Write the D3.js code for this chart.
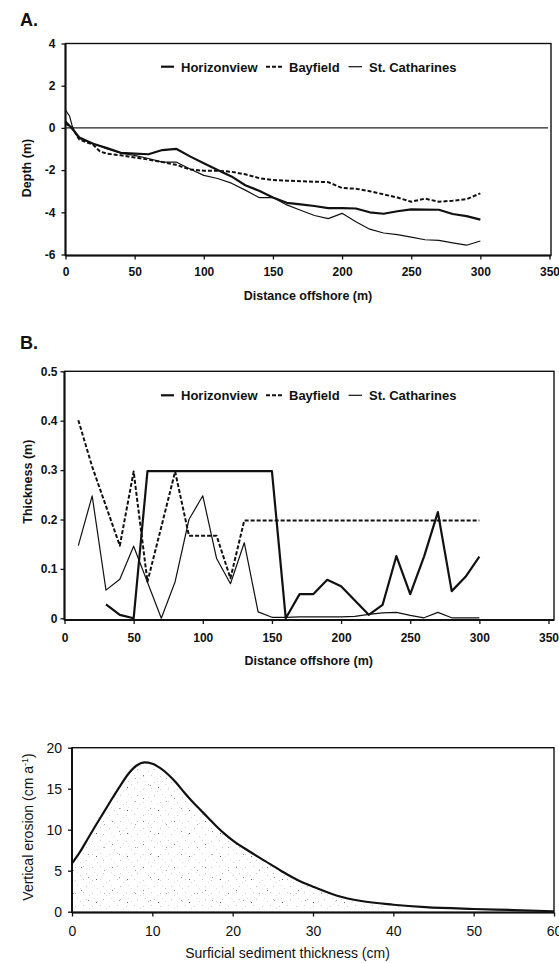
<!DOCTYPE html>
<html>
<head>
<meta charset="utf-8">
<script src="https://cdn.jsdelivr.net/npm/d3@7"></script>
<style>
  html, body { margin: 0; padding: 0; background: #fff; }
  svg { display: block; }
</style>
</head>
<body>
<svg id="fig" width="559" height="963"></svg>
<script>
// ---------- Panel A: depth profiles (m) vs distance offshore (m) ----------
const depthHorizonviewX = [0, 5, 10, 20, 30, 40, 50, 60, 70, 80, 90, 100, 110, 120, 130, 140, 150, 160, 170, 180, 190, 200, 210, 220, 230, 240, 250, 260, 270, 280, 290, 300];
const depthHorizonview  = [0.3, -0.05, -0.45, -0.75, -0.95, -1.18, -1.22, -1.25, -1.05, -0.99, -1.35, -1.68, -2.0, -2.3, -2.72, -2.98, -3.3, -3.55, -3.62, -3.7, -3.8, -3.8, -3.82, -4.0, -4.07, -3.95, -3.86, -3.87, -3.88, -4.08, -4.18, -4.35];

const depthBayfieldX = [0, 5, 10, 20, 25, 30, 40, 50, 60, 70, 80, 90, 100, 110, 120, 130, 140, 150, 160, 170, 180, 190, 200, 210, 220, 230, 240, 250, 260, 270, 280, 290, 300];
const depthBayfield  = [0.2, 0, -0.55, -0.8, -1.12, -1.22, -1.3, -1.4, -1.5, -1.62, -1.75, -1.97, -2.03, -2.03, -2.08, -2.2, -2.38, -2.47, -2.5, -2.53, -2.55, -2.57, -2.85, -2.88, -3.0, -3.15, -3.3, -3.5, -3.35, -3.5, -3.45, -3.38, -3.1];

const depthStCatharinesX = [0, 3, 5, 8, 10, 20, 30, 40, 50, 60, 70, 80, 90, 100, 110, 120, 130, 140, 150, 160, 170, 180, 190, 200, 210, 220, 230, 240, 250, 260, 270, 280, 290, 300];
const depthStCatharines  = [0.85, 0.55, 0.05, -0.35, -0.5, -0.75, -1.0, -1.2, -1.3, -1.45, -1.62, -1.62, -1.95, -2.25, -2.4, -2.62, -2.95, -3.3, -3.3, -3.65, -3.9, -4.15, -4.3, -4.05, -4.45, -4.8, -4.98, -5.06, -5.18, -5.3, -5.33, -5.45, -5.56, -5.36];

const depthXTicks = [0, 50, 100, 150, 200, 250, 300, 350];
const depthYTicks = [-6, -4, -2, 0, 2, 4];

// ---------- Panel B: thickness (m) vs distance offshore (m) ----------
const thickHorizonviewX = [30, 40, 50, 60, 70, 80, 90, 100, 110, 120, 130, 140, 150, 160, 170, 180, 190, 200, 210, 220, 230, 240, 250, 260, 270, 280, 290, 300];
const thickHorizonview  = [0.028, 0.007, 0, 0.298, 0.298, 0.298, 0.298, 0.298, 0.298, 0.298, 0.298, 0.298, 0.298, 0, 0.049, 0.049, 0.078, 0.065, 0.036, 0.007, 0.027, 0.126, 0.049, 0.125, 0.215, 0.055, 0.084, 0.125];

const thickBayfieldX = [10, 20, 30, 40, 50, 60, 70, 80, 90, 100, 110, 120, 130, 140, 150, 160, 170, 180, 190, 200, 210, 220, 230, 240, 250, 260, 270, 280, 290, 300];
const thickBayfield  = [0.401, 0.307, 0.227, 0.147, 0.297, 0.074, 0.185, 0.297, 0.167, 0.167, 0.167, 0.081, 0.198, 0.198, 0.198, 0.198, 0.198, 0.198, 0.198, 0.198, 0.198, 0.198, 0.198, 0.198, 0.198, 0.198, 0.198, 0.198, 0.198, 0.198];

const thickStCatharinesX = [10, 20, 30, 40, 50, 60, 70, 80, 90, 100, 110, 120, 130, 140, 150, 160, 170, 180, 190, 200, 210, 220, 230, 240, 250, 260, 270, 280, 290, 300];
const thickStCatharines  = [0.147, 0.248, 0.057, 0.079, 0.146, 0.073, 0, 0.074, 0.2, 0.248, 0.121, 0.07, 0.153, 0.013, 0.002, 0.002, 0.003, 0.003, 0.003, 0.003, 0.004, 0.008, 0.011, 0.012, 0.006, 0.001, 0.012, 0.001, 0.001, 0.001];

const thickXTicks = [0, 50, 100, 150, 200, 250, 300, 350];
const thickYTicks = [0, 0.1, 0.2, 0.3, 0.4, 0.5];

// ---------- Panel C: vertical erosion (cm/a) vs surficial sediment thickness (cm) ----------
const sedimentThickness = [0, 1, 2, 3, 4, 5, 6, 7, 8, 9, 10, 11, 12, 13, 14, 15, 16, 17, 18, 19, 20, 22, 24, 26, 28, 30, 33, 36, 40, 44, 50, 55, 60];
const verticalErosion   = [5.9, 7.3, 8.95, 10.6, 12.2, 13.8, 15.35, 16.8, 17.8, 18.2, 18.05, 17.5, 16.7, 15.7, 14.5, 13.4, 12.4, 11.4, 10.4, 9.5, 8.7, 7.4, 6.2, 5.0, 3.9, 3.05, 1.95, 1.3, 0.85, 0.55, 0.33, 0.2, 0.05];
const erosionXTicks = [0, 10, 20, 30, 40, 50, 60];
const erosionYTicks = [0, 5, 10, 15, 20];

// ---------- drawing ----------
const FONT = "'Liberation Sans', Arial, Helvetica, sans-serif";
const svg = d3.select("#fig").style("font-family", FONT);
svg.append("rect").attr("width", 559).attr("height", 963).attr("fill", "#fff");

const zip = (xs, ys) => xs.map((x, i) => [x, ys[i]]);

const styles = {
  "Horizonview":    { width: 2.2, dash: null },
  "Bayfield":       { width: 2.0, dash: "4,2" },
  "St. Catharines": { width: 1.2, dash: null }
};

function frame(x0, x1, y0, y1) {
  svg.append("rect")
    .attr("x", x0).attr("y", y0).attr("width", x1 - x0).attr("height", y1 - y0)
    .attr("fill", "none").attr("stroke", "#111").attr("stroke-width", 1.4);
  // heavier left and bottom axes
  svg.append("line").attr("x1", x0).attr("x2", x0).attr("y1", y0).attr("y2", y1)
    .attr("stroke", "#111").attr("stroke-width", 2);
  svg.append("line").attr("x1", x0).attr("x2", x1).attr("y1", y1).attr("y2", y1)
    .attr("stroke", "#111").attr("stroke-width", 2);
}

function styleAxis(g, fontSize, weight) {
  g.select(".domain").remove();
  g.selectAll(".tick line").attr("stroke", "#111").attr("stroke-width", 1.3);
  g.selectAll(".tick text")
    .attr("fill", "#111")
    .style("font-family", FONT)
    .style("font-size", fontSize + "px")
    .style("font-weight", weight);
}

function legend(yLine, yText) {
  const items = [
    { name: "Horizonview",    x0: 161, x1: 174, tx: 181 },
    { name: "Bayfield",       x0: 266, x1: 284, tx: 289 },
    { name: "St. Catharines", x0: 348.5, x1: 362, tx: 369 }
  ];
  items.forEach(it => {
    const s = styles[it.name];
    svg.append("line")
      .attr("x1", it.x0).attr("x2", it.x1).attr("y1", yLine).attr("y2", yLine)
      .attr("stroke", "#111").attr("stroke-width", s.width)
      .attr("stroke-dasharray", s.dash);
    svg.append("text").attr("x", it.tx).attr("y", yText)
      .attr("fill", "#111").style("font-size", "13px").style("font-weight", "bold")
      .text(it.name);
  });
}

function seriesPath(data, xs, ys, name) {
  const s = styles[name];
  svg.append("path")
    .datum(data)
    .attr("fill", "none")
    .attr("stroke", "#111")
    .attr("stroke-width", s.width)
    .attr("stroke-dasharray", s.dash)
    .attr("stroke-linejoin", "round")
    .attr("d", d3.line().x(d => xs(d[0])).y(d => ys(d[1])));
}

// ----- Panel A -----
{
  const xA = d3.scaleLinear().domain([0, 350]).range([65.5, 549.5]);
  const yA = d3.scaleLinear().domain([-6, 4]).range([254.5, 43.5]);

  svg.append("text").attr("x", 20).attr("y", 26)
    .style("font-size", "18px").style("font-weight", "bold").attr("fill", "#111").text("A.");

  frame(65.5, 551, 43.5, 255.5);

  // sea level reference
  svg.append("line").attr("x1", xA(0)).attr("x2", 548).attr("y1", yA(0)).attr("y2", yA(0))
    .attr("stroke", "#222").attr("stroke-width", 1.1);

  const gx = svg.append("g").attr("transform", `translate(0,${255.5})`)
    .call(d3.axisBottom(xA).tickValues(depthXTicks).tickSize(4).tickPadding(8).tickFormat(d => String(d)));
  styleAxis(gx, 12, "bold");
  const gy = svg.append("g").attr("transform", `translate(${65.5},0)`)
    .call(d3.axisLeft(yA).tickValues(depthYTicks).tickSize(4).tickPadding(6).tickFormat(d => String(d)));
  styleAxis(gy, 12, "bold");

  seriesPath(zip(depthBayfieldX, depthBayfield), xA, yA, "Bayfield");
  seriesPath(zip(depthStCatharinesX, depthStCatharines), xA, yA, "St. Catharines");
  seriesPath(zip(depthHorizonviewX, depthHorizonview), xA, yA, "Horizonview");

  legend(66.7, 71.5);

  svg.append("text").attr("x", 308).attr("y", 300).attr("text-anchor", "middle")
    .style("font-size", "12.5px").style("font-weight", "bold").attr("fill", "#111")
    .text("Distance offshore (m)");
  svg.append("text").attr("transform", "translate(31,168) rotate(-90)").attr("text-anchor", "middle")
    .style("font-size", "12.5px").style("font-weight", "bold").attr("fill", "#111")
    .text("Depth (m)");
}

// ----- Panel B -----
{
  const xB = d3.scaleLinear().domain([0, 350]).range([64.5, 548.5]);
  const yB = d3.scaleLinear().domain([0, 0.5]).range([618.3, 371.3]);

  svg.append("text").attr("x", 20).attr("y", 349)
    .style("font-size", "18px").style("font-weight", "bold").attr("fill", "#111").text("B.");

  frame(64.5, 554, 371.3, 620);

  const gx = svg.append("g").attr("transform", `translate(0,${620})`)
    .call(d3.axisBottom(xB).tickValues(thickXTicks).tickSize(4).tickPadding(9).tickFormat(d => String(d)));
  styleAxis(gx, 12, "bold");
  const gy = svg.append("g").attr("transform", `translate(${64.5},0)`)
    .call(d3.axisLeft(yB).tickValues(thickYTicks).tickSize(4).tickPadding(3)
      .tickFormat(d => d === 0 ? "0" : d.toFixed(1)));
  styleAxis(gy, 12, "bold");

  seriesPath(zip(thickBayfieldX, thickBayfield), xB, yB, "Bayfield");
  seriesPath(zip(thickStCatharinesX, thickStCatharines), xB, yB, "St. Catharines");
  seriesPath(zip(thickHorizonviewX, thickHorizonview), xB, yB, "Horizonview");

  legend(395.3, 400);

  svg.append("text").attr("x", 308.7).attr("y", 665).attr("text-anchor", "middle")
    .style("font-size", "12.5px").style("font-weight", "bold").attr("fill", "#111")
    .text("Distance offshore (m)");
  svg.append("text").attr("transform", "translate(31.5,481.7) rotate(-90)").attr("text-anchor", "middle")
    .style("font-size", "12.5px").style("font-weight", "bold").attr("fill", "#111")
    .text("Thickness (m)");
}

// ----- Panel C -----
{
  const xC = d3.scaleLinear().domain([0, 60]).range([72, 554]);
  const yC = d3.scaleLinear().domain([0, 20]).range([911.7, 747.7]);

  // sparse stippled fill under the erosion curve
  const defs = svg.append("defs");
  const p1 = defs.append("pattern").attr("id", "stippleFine")
    .attr("patternUnits", "userSpaceOnUse").attr("width", 17).attr("height", 13);
  [[1, 2, 0.35], [7, 9, 0.3], [12, 4, 0.25], [4, 11, 0.2], [15, 8, 0.3], [9, 1, 0.18]].forEach(([cx, cy, o]) =>
    p1.append("rect").attr("x", cx).attr("y", cy).attr("width", 1).attr("height", 1)
      .attr("fill", "#555").attr("fill-opacity", o));
  const p2 = defs.append("pattern").attr("id", "stippleCoarse")
    .attr("patternUnits", "userSpaceOnUse").attr("width", 31).attr("height", 23);
  [[3, 5, 0.7], [19, 16, 0.55], [26, 3, 0.45], [11, 19, 0.4]].forEach(([cx, cy, o]) =>
    p2.append("rect").attr("x", cx).attr("y", cy).attr("width", 1).attr("height", 1)
      .attr("fill", "#222").attr("fill-opacity", o));

  const curveData = zip(sedimentThickness, verticalErosion);
  const area = d3.area().x(d => xC(d[0])).y0(yC(0)).y1(d => yC(d[1])).curve(d3.curveMonotoneX);
  svg.append("path").datum(curveData).attr("d", area).attr("fill", "url(#stippleFine)");
  svg.append("path").datum(curveData).attr("d", area).attr("fill", "url(#stippleCoarse)");

  frame(72, 554, 747.7, 912.5);

  const gx = svg.append("g").attr("transform", `translate(0,${912.5})`)
    .call(d3.axisBottom(xC).tickValues(erosionXTicks).tickSize(4).tickPadding(10).tickFormat(d => String(d)));
  styleAxis(gx, 14, "normal");
  const gy = svg.append("g").attr("transform", `translate(${72},0)`)
    .call(d3.axisLeft(yC).tickValues(erosionYTicks).tickSize(4).tickPadding(6).tickFormat(d => String(d)));
  styleAxis(gy, 14, "normal");

  svg.append("path").datum(curveData)
    .attr("fill", "none").attr("stroke", "#111").attr("stroke-width", 2.2)
    .attr("d", d3.line().x(d => xC(d[0])).y(d => yC(d[1])).curve(d3.curveMonotoneX));

  svg.append("text").attr("x", 287.5).attr("y", 958).attr("text-anchor", "middle")
    .style("font-size", "14px").attr("fill", "#111")
    .text("Surficial sediment thickness (cm)");
  const yt = svg.append("text").attr("transform", "translate(33,827) rotate(-90)").attr("text-anchor", "middle")
    .style("font-size", "14px").attr("fill", "#111");
  yt.append("tspan").text("Vertical erosion (cm a");
  yt.append("tspan").attr("dy", -5).style("font-size", "9px").text("-1");
  yt.append("tspan").attr("dy", 5).text(")");
}
</script>
</body>
</html>
